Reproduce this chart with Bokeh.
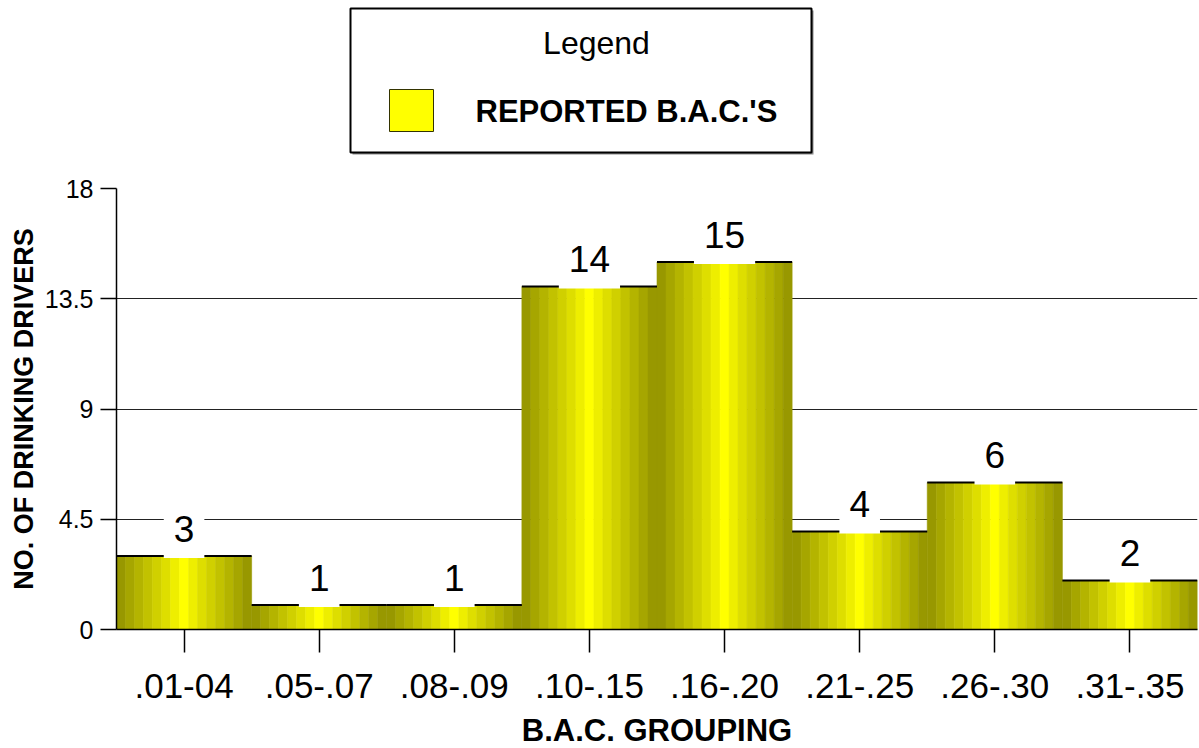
import numpy as np
from bokeh.plotting import figure
from bokeh.layouts import column
from bokeh.models import FixedTicker, ColumnDataSource, Range1d
from bokeh.core.properties import value
from bokeh.embed import file_html
from bokeh.resources import INLINE

# ---- data ----
categories = [".01-04", ".05-.07", ".08-.09", ".10-.15", ".16-.20", ".21-.25", ".26-.30", ".31-.35"]
counts = [3, 1, 1, 14, 15, 4, 6, 2]
y_ticks = [0, 4.5, 9, 13.5, 18]
y_tick_labels = ["0", "4.5", "9", "13.5", "18"]
series_name = "REPORTED B.A.C.'S"
legend_title = "Legend"
x_title = "B.A.C. GROUPING"
y_title = "NO. OF DRINKING DRIVERS"

# ---- style / layout ----
FONT = "Liberation Sans"
stripe_colors = ["#989800", "#a6a600", "#b4b400", "#c2c200", "#d0d000", "#dede00", "#eeee00",
                 "#ffff00",
                 "#eeee00", "#dede00", "#d0d000", "#c2c200", "#b4b400", "#a6a600", "#989800"]

W, H = 1199, 748
LEG_H = 168                      # height of the legend strip on top
TITLE_H = 39                     # height of the strip holding the x-axis title
MAIN_H = H - LEG_H - TITLE_H
FL, FR = 116, 1197               # plot-area left / right (frames of all strips are aligned)
TOP_PAD, BOTTOM_PAD = 20, 80
Y_MAX = 18


def strip(height):
    # frame is aligned with the main plot's frame (FL..FR), so use pixel-like ranges
    f = figure(width=W, height=height, output_backend="svg", toolbar_location=None,
               x_range=Range1d(FL, FR), y_range=Range1d(height, 0),
               x_axis_type=None, y_axis_type=None,
               min_border_left=FL, min_border_right=W - FR, min_border_top=0,
               min_border_bottom=0)
    f.outline_line_color = None
    return f


# ---------- legend strip ----------
leg = strip(LEG_H)
leg.quad(left=[352], right=[813], top=[10], bottom=[154], fill_color="#888888", line_color=None)
leg.quad(left=[350], right=[811], top=[8], bottom=[152], fill_color="white",
         line_color="black", line_width=2)
leg.quad(left=[389], right=[433], top=[89], bottom=[131], fill_color="#ffff00",
         line_color="#333300", line_width=1)
leg.text(x=[596], y=[42], text=[legend_title], text_align="center", text_baseline="middle",
         text_font=value(FONT), text_font_size="32px", text_color="black")
leg.text(x=[475], y=[111], text=[series_name], text_align="left", text_baseline="middle",
         text_font=value(FONT), text_font_style="bold", text_font_size="31px",
         text_color="black")

# ---------- main chart ----------
p = figure(width=W, height=MAIN_H, output_backend="svg", toolbar_location=None,
           x_range=Range1d(0, len(categories)), y_range=Range1d(0, Y_MAX),
           min_border_left=FL, min_border_right=W - FR, min_border_top=TOP_PAD,
           min_border_bottom=BOTTOM_PAD)
p.outline_line_color = None
p.background_fill_color = "white"
PX_X = (FR - FL) / len(categories)
PX_Y = (MAIN_H - TOP_PAD - BOTTOM_PAD) / Y_MAX

# stripes of each bar
n = len(stripe_colors)
lefts, rights, tops, cols = [], [], [], []
for i, v in enumerate(counts):
    for k, c in enumerate(stripe_colors):
        lefts.append(i + k / n)
        rights.append(i + (k + 1) / n)
        tops.append(v)
        cols.append(c)
src = ColumnDataSource(dict(left=lefts, right=rights, top=tops, color=cols))
p.quad(left="left", right="right", top="top", bottom=0, fill_color="color",
       line_color="color", line_width=0.6, source=src)

# dark top edge of each bar
xc = [i + 0.5 for i in range(len(counts))]
seg = ColumnDataSource(dict(x0=[i for i in range(len(counts))],
                            x1=[i + 1 for i in range(len(counts))], y=counts))
p.segment(x0="x0", x1="x1", y0="y", y1="y", line_color="black", line_width=2, source=seg)

# white boxes behind value labels, then the labels (digit centre ~27 px above bar top)
texts = [str(v) for v in counts]
half_w = [(10 + 10.3 * len(t)) / PX_X for t in texts]
lab = ColumnDataSource(dict(
    x=xc, ty=[v + 27.5 / PX_Y for v in counts], text=texts,
    left=[x - h for x, h in zip(xc, half_w)], right=[x + h for x, h in zip(xc, half_w)],
    bottom=[v - 2 / PX_Y for v in counts], top=[v + 48 / PX_Y for v in counts]))
p.quad(left="left", right="right", top="top", bottom="bottom", fill_color="white",
       line_color=None, source=lab)
p.text(x="x", y="ty", text="text", source=lab, text_align="center",
       text_baseline="middle", text_font=value(FONT),
       text_font_size="37px", text_color="black")

# axes
p.xaxis.ticker = FixedTicker(ticks=xc)
p.xaxis.major_label_overrides = {x: c for x, c in zip(xc, categories)}
p.yaxis.ticker = FixedTicker(ticks=y_ticks)
p.yaxis.major_label_overrides = {t: l for t, l in zip(y_ticks, y_tick_labels)}

for ax in (p.xaxis, p.yaxis):
    ax.axis_line_color = "black"
    ax.axis_line_width = 1.5
    ax.major_tick_line_color = "black"
    ax.major_tick_line_width = 1.5
    ax.minor_tick_line_color = None
    ax.major_tick_in = 0
    ax.major_label_text_font = FONT
    ax.major_label_text_color = "black"
    ax.axis_label_text_font = FONT
    ax.axis_label_text_font_style = "bold"
    ax.axis_label_text_color = "black"

p.xaxis.major_tick_out = 23
p.xaxis.major_label_standoff = 21
p.xaxis.major_label_text_font_size = "35px"

p.yaxis.major_tick_out = 16
p.yaxis.major_label_standoff = 7
p.yaxis.major_label_text_font_size = "25px"
p.yaxis.axis_label = y_title
p.yaxis.axis_label_text_font_size = "27px"
p.yaxis.axis_label_standoff = 3

p.xgrid.grid_line_color = None
p.ygrid.ticker = FixedTicker(ticks=y_ticks)
p.ygrid.grid_line_color = "#222222"
p.ygrid.grid_line_width = 1

# ---------- x-axis title strip ----------
ttl = strip(TITLE_H)
ttl.text(x=[(FL + FR) / 2], y=[20.5], text=[x_title], text_align="center",
         text_baseline="middle", text_font=value(FONT), text_font_style="bold",
         text_font_size="31px", text_color="black")

layout = column(leg, p, ttl, spacing=0)
open("out.html", "w").write(file_html(layout, INLINE))
